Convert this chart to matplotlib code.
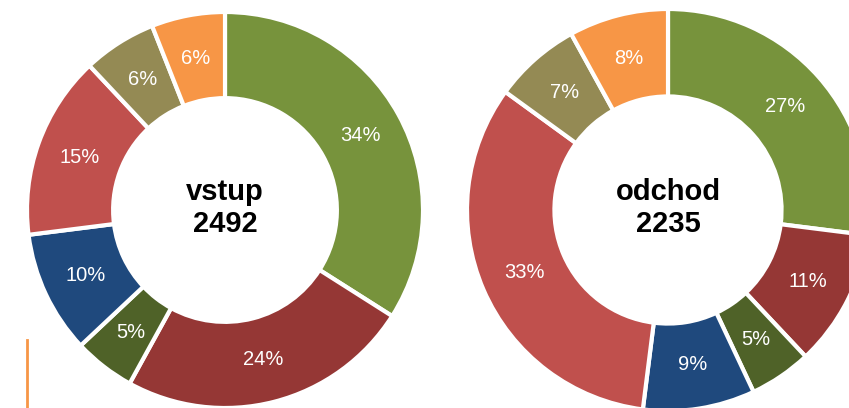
import matplotlib.pyplot as plt
from matplotlib.lines import Line2D

# data
colors = ["#77933C", "#953735", "#4F6228", "#1F497D", "#C0504D", "#948A54", "#F79646"]
vstup_pct = [34, 24, 5, 10, 15, 6, 6]
odchod_pct = [27, 11, 5, 9, 33, 7, 8]
titles = ["vstup\n2492", "odchod\n2235"]

W, H = 849, 408
fig = plt.figure(figsize=(W / 100, H / 100), dpi=100)

# axes boxes in pixels: left, bottom, size
boxes = [(27, 0, 396), (467, -3, 402)]

for (x0, y0, s), vals, title in zip(boxes, [vstup_pct, odchod_pct], titles):
    ax = fig.add_axes([x0 / W, y0 / H, s / W, s / H])
    ax.pie(vals, colors=colors, startangle=90, counterclock=False, radius=1,
           autopct="%1.0f%%", pctdistance=0.78,
           wedgeprops=dict(width=0.435, edgecolor="white", linewidth=3),
           textprops=dict(color="white", fontsize=14.5, family="Liberation Sans"))
    ax.text(0, 0.01, title, ha="center", va="center", fontsize=21, fontweight="bold",
            family="Liberation Sans", linespacing=1.15)
    ax.set_xlim(-1, 1)
    ax.set_ylim(-1, 1)
    ax.set_aspect("equal")
    ax.axis("off")

# small orange accent line bottom-left
fig.add_artist(Line2D([27 / W, 27 / W], [0, 68 / H], color="#F79646", lw=2))

fig.savefig("out.png", dpi=100)
